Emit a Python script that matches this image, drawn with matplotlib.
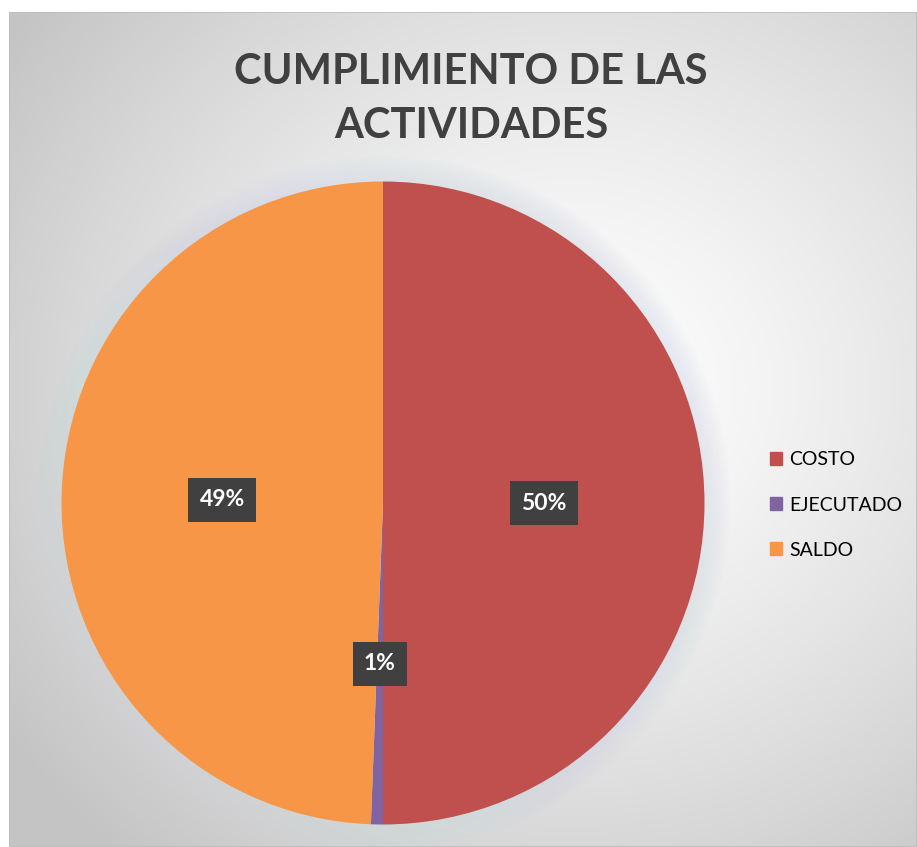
import numpy as np
import matplotlib.pyplot as plt
import matplotlib.patches as mpatches

# Data
categories = ["COSTO", "EJECUTADO", "SALDO"]
shares = [50.0, 0.6, 49.4]
labels_txt = ["50%", "1%", "49%"]
colors = ["#c0504d", "#8064a2", "#f79646"]
title = "CUMPLIMIENTO DE LAS\nACTIVIDADES"

W, H = 917, 847
fig = plt.figure(figsize=(W / 100, H / 100), dpi=100)
fig.patch.set_facecolor("white")

# background: radial gradient in the chart area
x0, y0 = 9, 12
bg = fig.add_axes([x0 / W, 0, (W - x0) / W, (H - y0) / H])
bg.set_axis_off()
gx, gy = np.meshgrid(np.linspace(0, 1, 400), np.linspace(0, 1, 400))
cx, cy = 0.62, 0.45
d = np.sqrt(((gx - cx) / 0.75) ** 2 + ((gy - cy) / 0.75) ** 2)
d = np.clip(d, 0, 1)
val = 1.0 - 0.23 * d ** 1.3
img = np.dstack([val, val, val])
bg.imshow(img, extent=[0, 1, 0, 1], origin="upper", aspect="auto")
bg.set_xlim(0, 1)
bg.set_ylim(0, 1)
bg.add_patch(mpatches.Rectangle((0, 0), 1, 1, fill=False, edgecolor="#bdbdbd",
                                linewidth=1.2, transform=bg.transAxes))

fig.text(471 / W, 1 - 99 / H, title, ha="center", va="center", fontsize=30,
         fontweight="bold", color="#404040", family="Lato", linespacing=1.5)

# pie
cxp, cyp, r = 383, H - 503, 321.5
ax = fig.add_axes([(cxp - r) / W, (cyp - r) / H, 2 * r / W, 2 * r / H])
ax.set_axis_off()

# soft glow around the pie
for k in range(10):
    rr = 1.0 + 0.008 * (10 - k)
    ax.add_patch(mpatches.Circle((0, 0), rr, color="#d0d8e6", alpha=0.05,
                                 linewidth=0, clip_on=False))

wedges, _ = ax.pie(shares, colors=colors, startangle=90, counterclock=False,
                   radius=1, wedgeprops=dict(linewidth=0))
ax.set_xlim(-1, 1)
ax.set_ylim(-1, 1)

# data labels in dark boxes
start = 90.0
for w, lab in zip(shares, labels_txt):
    mid = np.deg2rad(start - w * 3.6 / 2)
    start -= w * 3.6
    lx, ly = 0.5 * np.cos(mid), 0.5 * np.sin(mid)
    ax.text(lx, ly, lab, ha="center", va="center", fontsize=16.5, fontweight="bold",
            color="white", family="Lato",
            bbox=dict(boxstyle="square,pad=0.5", facecolor="#404040", edgecolor="none"))

handles = [mpatches.Patch(color=c, label=n) for c, n in zip(colors, categories)]
fig.legend(handles=handles, loc="center left", bbox_to_anchor=(752 / W, 1 - 505 / H),
           frameon=False, handlelength=0.65, handleheight=0.65,
           handletextpad=0.35, labelspacing=1.45, prop=dict(family="Lato", size=14))

fig.savefig("out.png", dpi=100)
